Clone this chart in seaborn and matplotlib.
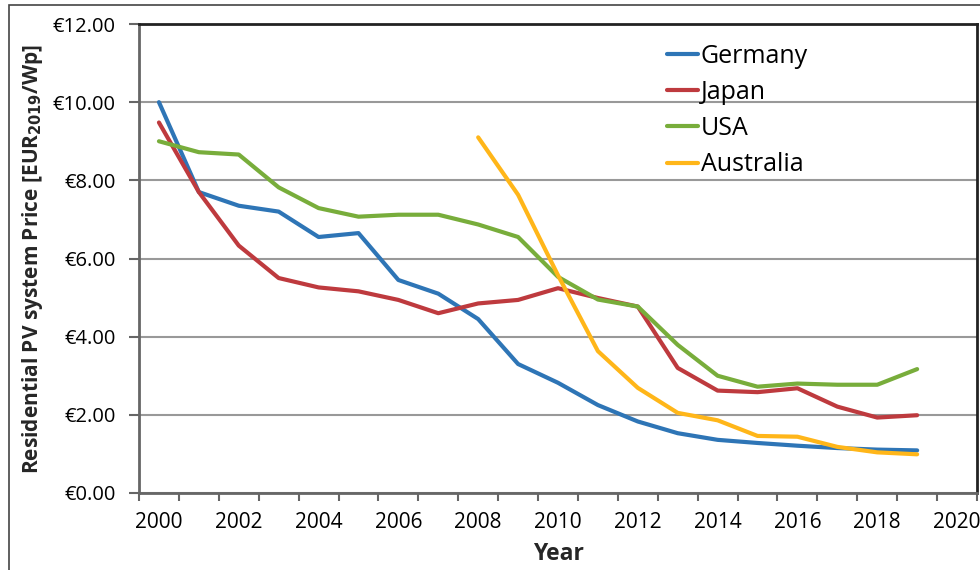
import numpy as np
import pandas as pd
import matplotlib
matplotlib.use("Agg")
import matplotlib.pyplot as plt
import seaborn as sns
from matplotlib.patches import Rectangle
from matplotlib.ticker import FuncFormatter, MultipleLocator

# values (EUR2019 / Wp)
years = list(range(2000, 2020))
germany = [10.0, 7.7, 7.35, 7.2, 6.55, 6.65, 5.45, 5.1, 4.45, 3.3,
           2.82, 2.25, 1.83, 1.53, 1.36, 1.28, 1.21, 1.15, 1.11, 1.09]
japan = [9.48, 7.7, 6.33, 5.5, 5.26, 5.16, 4.94, 4.6, 4.85, 4.94,
         5.24, 4.99, 4.77, 3.2, 2.62, 2.58, 2.68, 2.21, 1.93, 1.99]
usa = [9.0, 8.72, 8.66, 7.82, 7.29, 7.07, 7.12, 7.12, 6.87, 6.55,
       5.53, 4.95, 4.77, 3.79, 3.0, 2.72, 2.8, 2.77, 2.77, 3.17]
aus_years = list(range(2008, 2020))
australia = [9.1, 7.63, 5.57, 3.63, 2.69, 2.05, 1.86, 1.46, 1.44, 1.18, 1.04, 0.99]

countries = ["Germany", "Japan", "USA", "Australia"]
colors = ["#2E75B6", "#BE3A3E", "#78AD3B", "#FFB619"]

frames = [
    pd.DataFrame({"Year": years, "Price": germany, "Country": "Germany"}),
    pd.DataFrame({"Year": years, "Price": japan, "Country": "Japan"}),
    pd.DataFrame({"Year": years, "Price": usa, "Country": "USA"}),
    pd.DataFrame({"Year": aus_years, "Price": australia, "Country": "Australia"}),
]
df = pd.concat(frames, ignore_index=True)

sns.set_style("white")
plt.rcParams["font.family"] = ["Open Sans", "DejaVu Sans"]

fig = plt.figure(figsize=(9.8, 5.7), dpi=100)
ax = fig.add_axes([139 / 980, 77 / 570, 838 / 980, 469 / 570])

sns.lineplot(data=df, x="Year", y="Price", hue="Country", hue_order=countries,
             palette=colors, linewidth=3, ax=ax)

# axes limits and ticks (category style: labels between tick marks)
ax.set_xlim(1999.5, 2020.5)
ax.set_ylim(0, 12)
ax.xaxis.set_major_locator(MultipleLocator(2))
ax.xaxis.set_minor_locator(MultipleLocator(1, offset=0.5))
ax.yaxis.set_major_locator(MultipleLocator(2))
ax.yaxis.set_major_formatter(FuncFormatter(lambda v, p: f"€{v:.2f}"))
ax.tick_params(axis="x", which="major", length=0, labelsize=15, pad=14, colors="#000000")
ax.tick_params(axis="x", which="minor", length=6, width=1.5, color="#666666", bottom=True)
ax.tick_params(axis="y", length=7, width=1.5, color="#666666", labelsize=14.5, pad=10,
               labelcolor="#000000", left=True)

ax.grid(axis="y", color="#999999", linewidth=1.5)
ax.set_axisbelow(True)

for side in ["left", "bottom"]:
    ax.spines[side].set_color("#666666")
    ax.spines[side].set_linewidth(2)
for side in ["top", "right"]:
    ax.spines[side].set_color("#222222")
    ax.spines[side].set_linewidth(2)

ax.set_xlabel("Year", fontsize=16.5, fontweight="bold", labelpad=6)
ax.set_ylabel("Residential PV system Price [EUR$_{\\mathbf{2019}}$/Wp]", fontsize=15,
              fontweight="bold", labelpad=5)

leg = ax.legend(loc="upper left", bbox_to_anchor=(0.63, 0.958), frameon=False, fontsize=18,
                handlelength=1.25, handletextpad=0.1, labelspacing=0.45, borderpad=0,
                borderaxespad=0)
for t in leg.get_texts():
    t.set_color("#000000")

# outer chart border (only top and left visible in the reference)
fig.patches.append(Rectangle((9 / 980, -0.2), 1.5, 0.2 + 565 / 570, transform=fig.transFigure,
                             fill=False, edgecolor="#444444", linewidth=1.2))

fig.savefig("out.png", dpi=100)
